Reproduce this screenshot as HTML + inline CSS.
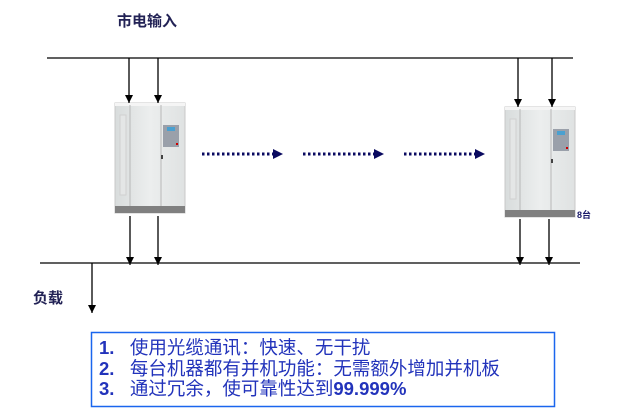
<!DOCTYPE html>
<html><head><meta charset="utf-8"><style>
body{margin:0;background:#fff;width:640px;height:409px;overflow:hidden;position:relative;font-family:"Liberation Sans","Noto Sans CJK SC",sans-serif}
.t{position:absolute;font-weight:bold;color:#1a1a6a}
</style></head><body>
<svg width="640" height="409" style="position:absolute;left:0;top:0">
<defs>
<marker id="a" markerWidth="8" markerHeight="8" refX="8" refY="4" orient="auto" markerUnits="userSpaceOnUse"><path d="M0,0 L8,4 L0,8 z" fill="#000"/></marker>
<marker id="d" markerWidth="10" markerHeight="10" refX="2" refY="5" orient="auto" markerUnits="userSpaceOnUse"><path d="M0,0 L10,5 L0,10 z" fill="#0a0a60"/></marker>
<linearGradient id="g" x1="0" x2="1"><stop offset="0" stop-color="#d8dcdc"/><stop offset=".5" stop-color="#eceeee"/><stop offset="1" stop-color="#dfe2e2"/></linearGradient>
<g id="cab">
<rect x="0" y="0" width="70" height="110" fill="url(#g)" stroke="#c8c8c8"/>
<rect x="0" y="0" width="70" height="3" fill="#f5f5f5"/>
<line x1="15" y1="2" x2="15" y2="103" stroke="#b8b8b8"/>
<line x1="46" y1="2" x2="46" y2="103" stroke="#b8b8b8"/>
<rect x="5" y="12" width="6" height="80" fill="#e4e6e6" stroke="#d0d0d0"/>
<rect x="48" y="22" width="16" height="22" fill="#9aa0aa"/>
<rect x="52" y="24" width="8" height="4" fill="#4aa0d0"/>
<rect x="61" y="40" width="2" height="2" fill="#c00"/>
<rect x="46" y="52" width="2" height="4" fill="#444"/>
<rect x="0" y="103" width="70" height="7" fill="#808080"/>
</g>
</defs>
<line x1="47" y1="58" x2="573" y2="58" stroke="#000" stroke-width="1.3"/>
<line x1="40" y1="263" x2="580" y2="263" stroke="#000" stroke-width="1.3"/>
<use href="#cab" x="115" y="103"/>
<use href="#cab" x="505" y="107"/>
<g stroke="#000" stroke-width="1.3" marker-end="url(#a)">
<line x1="129" y1="58" x2="129" y2="103"/>
<line x1="158" y1="58" x2="158" y2="103"/>
<line x1="518" y1="58" x2="518" y2="107"/>
<line x1="552" y1="58" x2="552" y2="107"/>
<line x1="130" y1="216" x2="130" y2="265"/>
<line x1="158" y1="216" x2="158" y2="265"/>
<line x1="520" y1="219" x2="520" y2="265"/>
<line x1="549" y1="219" x2="549" y2="265"/>
<line x1="92" y1="263" x2="92" y2="313"/>
</g>
<g stroke="#0a0a60" stroke-width="3" stroke-dasharray="2.5,2.5" marker-end="url(#d)">
<line x1="202" y1="154" x2="275" y2="154"/>
<line x1="303" y1="154" x2="376" y2="154"/>
<line x1="404" y1="154" x2="477" y2="154"/>
</g>
<rect x="91.5" y="332.5" width="463" height="74" fill="none" stroke="#1a66ee" stroke-width="1.5"/>
</svg>
<div class="t" style="left:117px;top:10px;font-size:15px;color:#222255">市电输入</div>
<div class="t" style="left:33px;top:287px;font-size:15px;color:#222255">负载</div>
<div class="t" style="left:577px;top:208px;font-size:9px">8台</div>
<div style="position:absolute;left:99px;top:338px;font-size:18.5px;line-height:20.5px;color:#2233bb;white-space:nowrap">
<div><b>1.</b>&nbsp;&nbsp; 使用光缆通讯：快速、无干扰</div>
<div><b>2.</b>&nbsp;&nbsp; 每台机器都有并机功能：无需额外增加并机板</div>
<div><b>3.</b>&nbsp;&nbsp; 通过冗余，使可靠性达到<b>99.999%</b></div>
</div>
</body></html>
